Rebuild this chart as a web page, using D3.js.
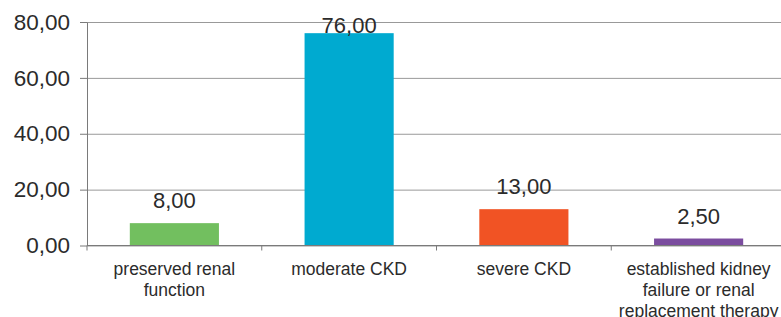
<!DOCTYPE html>
<html>
<head>
<meta charset="utf-8">
<script src="https://cdn.jsdelivr.net/npm/d3@7"></script>
<style>
	body { margin: 0; background: #fff; }
	svg { display: block; font-family: "Liberation Sans", Arial, sans-serif; }
	.axis path, .axis line { stroke: #7a7a7a; }
	.grid line { stroke: #999; }
	.grid path { display: none; }
</style>
</head>
<body>
<svg class="chart" width="781" height="317"></svg>
<script>
	var categories = [
		["preserved renal", "function"],
		["moderate CKD"],
		["severe CKD"],
		["established kidney", "failure or renal", "replacement therapy"]
	]
	var values = [8.00, 76.00, 13.00, 2.50]
	var yTicks = [0, 20, 40, 60, 80]
	var colors = ['#72BF5F', '#00AAD0', '#F15324', '#7B4D9F']

	var svg = d3.select('.chart')
	var margin = { top: 22, left: 87, bottom: 71.5 }
	var width = 786
	var height = 317

	var fmt = function(v) { return d3.format('.2f')(v).replace('.', ',') }

	var x = d3.scaleBand()
		.domain(d3.range(values.length))
		.range([margin.left, width])
		.paddingInner(0.49)
		.paddingOuter(0.245)

	var y = d3.scaleLinear()
		.domain([0, 80])
		.range([height - margin.bottom, margin.top])

	// gridlines
	svg.append('g')
		.attr('class', 'grid')
		.attr('transform', 'translate(' + margin.left + ',0)')
		.call(d3.axisRight(y).tickValues(yTicks).tickSize(width - margin.left).tickFormat(''))

	// y axis
	var gy = svg.append('g')
		.attr('class', 'axis')
		.attr('transform', 'translate(' + margin.left + ',0)')
		.call(d3.axisLeft(y).tickValues(yTicks).tickSizeInner(7).tickSizeOuter(0).tickPadding(10).tickFormat(fmt))
	gy.selectAll('text')
		.attr('font-size', 22.5)
		.attr('fill', '#2b2b2b')
		.attr('font-family', '"Liberation Sans", Arial, sans-serif')

	// bars
	svg.append('g').selectAll('.bar')
		.data(values)
		.enter()
		.append('rect')
		.attr('class', 'bar')
		.attr('x', function(d, i) { return x(i) })
		.attr('y', function(d) { return y(d) })
		.attr('width', x.bandwidth())
		.attr('height', function(d) { return y(0) - y(d) })
		.attr('fill', function(d, i) { return colors[i] })

	// x axis: line and ticks at category boundaries
	var step = x.step()
	var bounds = d3.range(values.length + 1).map(function(i) { return margin.left + i * step })
	var gx = svg.append('g').attr('class', 'axis')
	gx.append('line')
		.attr('x1', margin.left).attr('x2', width)
		.attr('y1', y(0)).attr('y2', y(0))
	gx.selectAll('.tick')
		.data(bounds)
		.enter()
		.append('line')
		.attr('x1', function(d) { return d }).attr('x2', function(d) { return d })
		.attr('y1', y(0)).attr('y2', y(0) + 5)

	// category labels
	svg.append('g').selectAll('text')
		.data(categories)
		.enter()
		.append('text')
		.attr('text-anchor', 'middle')
		.attr('font-size', 17.5)
		.attr('fill', '#2b2b2b')
		.attr('transform', function(d, i) { return 'translate(' + (x(i) + x.bandwidth() / 2) + ',' + (y(0) + 29) + ')' })
		.selectAll('tspan')
		.data(function(d) { return d })
		.enter()
		.append('tspan')
		.attr('x', 0)
		.attr('dy', function(d, i) { return i ? 21 : 0 })
		.text(function(d) { return d })

	// value labels
	svg.append('g').selectAll('text')
		.data(values)
		.enter()
		.append('text')
		.attr('text-anchor', 'middle')
		.attr('font-size', 22)
		.attr('fill', '#2b2b2b')
		.attr('x', function(d, i) { return x(i) + x.bandwidth() / 2 })
		.attr('y', function(d) { return Math.max(y(d) - 15, y(80) + 11) })
		.text(fmt)
</script>
</body>
</html>
